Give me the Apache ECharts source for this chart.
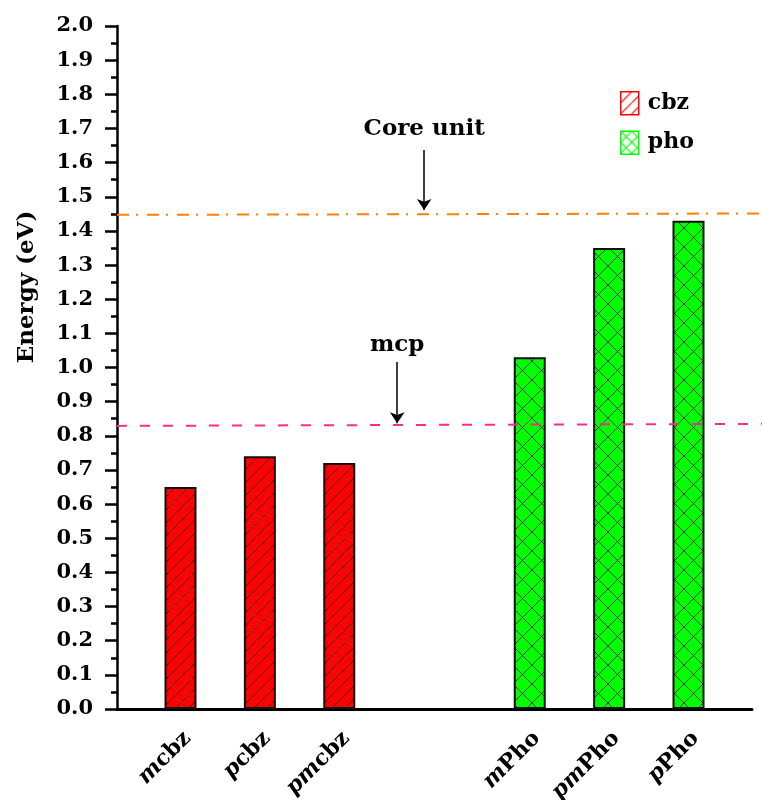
<!DOCTYPE html>
<html>
<head>
<meta charset="utf-8">
<script src="https://cdn.jsdelivr.net/npm/echarts@6/dist/echarts.min.js"></script>
<style>html,body{margin:0;padding:0;background:#fff;}#c{width:762px;height:800px;}</style>
</head>
<body>
<div id="c"></div>
<script>
// ---- data ----
const categories = ['mcbz', 'pcbz', 'pmcbz', 'mPho', 'pmPho', 'pPho'];
const labelItalic = ['m', 'p', 'pm', 'm', 'pm', 'p'];
const labelUpright = ['cbz', 'cbz', 'cbz', 'Pho', 'Pho', 'Pho'];
const groups = ['cbz', 'cbz', 'cbz', 'pho', 'pho', 'pho'];
const xPositions = [0.8, 1.8, 2.8, 5.2, 6.2, 7.2];
const energies = [0.65, 0.74, 0.72, 1.03, 1.35, 1.43];
const seriesNames = ['cbz', 'pho'];
const yMin = 0, yMax = 2.0, yStep = 0.1;
const coreUnitLevel = [1.447, 1.451];   // left end, right end
const mcpLevel = [0.829, 0.835];
const annotationTexts = ['Core unit', 'mcp'];
const annotationX = [3.87, 3.53];
const annotationFrom = [1.637, 1.016];
const annotationTo = [1.461, 0.837];

// ---- patterns ----
function hatch(size, bg, line, cross, lw) {
  const c = document.createElement('canvas');
  c.width = size; c.height = size;
  const g = c.getContext('2d');
  if (bg) { g.fillStyle = bg; g.fillRect(0, 0, size, size); }
  g.strokeStyle = line; g.lineWidth = lw;
  g.beginPath();
  g.moveTo(-1, size + 1); g.lineTo(size + 1, -1);
  if (cross) { g.moveTo(-1, -1); g.lineTo(size + 1, size + 1); }
  g.stroke();
  return { image: c, repeat: 'repeat' };
}
const redFill = hatch(13, '#ff0000', 'rgba(0,0,0,0.65)', false, 1);
const greenFill = hatch(19, '#00ff00', 'rgba(0,0,0,0.75)', true, 1);
const redLegend = hatch(11, '#ffffff', '#ff0000', false, 1.2);
const greenLegend = hatch(11, '#ffffff', '#00ff00', true, 1.2);
const fills = { cbz: redFill, pho: greenFill };

const FONT = 'DejaVu Serif';
const labelNudge = 0.09; // rotated labels sit slightly right of bar centres
const chart = echarts.init(document.getElementById('c'), null, { renderer: 'canvas' });

function labelFor(v) {
  let best = 0, d = 1e9;
  xPositions.forEach((p, i) => { const dd = Math.abs(p + labelNudge - v); if (dd < d) { d = dd; best = i; } });
  return '{i|' + labelItalic[best] + '}{u|' + labelUpright[best] + '}';
}

const barSeries = seriesNames.map(name => ({
  name: name,
  type: 'bar',
  stack: 'all',
  xAxisIndex: 0, yAxisIndex: 0,
  barWidth: 32,
  itemStyle: { color: fills[name], borderColor: '#111', borderWidth: 2 },
  data: xPositions.map((x, i) => groups[i] === name ? [x, energies[i]] : null).filter(d => d)
}));

const xMax2 = 8.126;
const option = {
  animation: false,
  backgroundColor: '#fff',
  grid: [
    { left: 117, top: 26, right: 10, bottom: 91, containLabel: false, outerBoundsMode: 'none' },
    { left: 117, top: 26, right: 0, bottom: 91, containLabel: false, outerBoundsMode: 'none' }
  ],
  xAxis: [
    {
      type: 'value', gridIndex: 0, min: 0, max: 8,
      splitLine: { show: false },
      axisLine: { show: true, onZero: false, lineStyle: { color: '#000', width: 3 } },
      axisTick: { show: false },
      axisLabel: {
        customValues: xPositions.map(p => p + labelNudge),
        rotate: 45, margin: 26,
        formatter: v => labelFor(v),
        rich: {
          i: { fontFamily: FONT, fontStyle: 'italic', fontWeight: 'bold', fontSize: 22, color: '#000' },
          u: { fontFamily: FONT, fontWeight: 'bold', fontSize: 22, color: '#000' }
        }
      }
    },
    {
      type: 'value', gridIndex: 1, min: 0, max: xMax2, show: false
    }
  ],
  yAxis: [
    {
      type: 'value', gridIndex: 0, min: yMin, max: yMax, interval: yStep,
      splitLine: { show: false },
      axisLine: { show: true, onZero: false, lineStyle: { color: '#000', width: 2.5 } },
      axisTick: { show: true, inside: false, length: 12, lineStyle: { width: 2.5, color: '#000' } },
      minorTick: { show: true, splitNumber: 2, length: 6, lineStyle: { width: 2.5, color: '#000' } },
      axisLabel: {
        margin: 24, color: '#000', fontFamily: FONT, fontWeight: 'bold', fontSize: 21,
        formatter: v => v.toFixed(1)
      }
    },
    {
      type: 'value', gridIndex: 1, min: yMin, max: yMax, show: false
    }
  ],
  legend: {
    orient: 'vertical', left: 620, top: 91,
    itemWidth: 18, itemHeight: 23, itemGap: 15, padding: 0,
    icon: 'rect',
    textStyle: { fontFamily: FONT, fontWeight: 'bold', fontSize: 22, color: '#000', padding: [0, 0, 0, 4] },
    data: [
      { name: 'cbz', itemStyle: { color: redLegend, borderColor: '#ff0000', borderWidth: 1.5 } },
      { name: 'pho', itemStyle: { color: greenLegend, borderColor: '#00ff00', borderWidth: 1.5 } }
    ]
  },
  graphic: [
    {
      type: 'text', x: 27, y: 287, rotation: Math.PI / 2,
      style: { text: 'Energy (eV)', fill: '#000', font: 'bold 23px "DejaVu Serif"', align: 'center', verticalAlign: 'middle' }
    }
  ],
  series: barSeries.concat([
    {
      name: 'coreLine', type: 'line', xAxisIndex: 1, yAxisIndex: 1,
      symbol: 'none', silent: true,
      lineStyle: { color: '#ff8000', width: 2, type: [12, 7, 2, 9] },
      data: [[0, coreUnitLevel[0]], [xMax2, coreUnitLevel[1]]],
      markLine: {
        silent: true, symbol: ['none', 'arrow'], symbolSize: 11,
        lineStyle: { color: '#000', width: 1.5, type: 'solid' },
        label: { show: true, position: 'start', distance: 9, color: '#000', fontFamily: FONT, fontWeight: 'bold', fontSize: 23, formatter: annotationTexts[0] },
        data: [[{ coord: [annotationX[0], annotationFrom[0]] }, { coord: [annotationX[0], annotationTo[0]] }]]
      }
    },
    {
      name: 'mcpLine', type: 'line', xAxisIndex: 1, yAxisIndex: 1,
      symbol: 'none', silent: true,
      lineStyle: { color: '#ff2a8c', width: 2, type: [10, 13] },
      data: [[0, mcpLevel[0]], [xMax2, mcpLevel[1]]],
      markLine: {
        silent: true, symbol: ['none', 'arrow'], symbolSize: 11,
        lineStyle: { color: '#000', width: 1.5, type: 'solid' },
        label: { show: true, position: 'start', distance: 6, color: '#000', fontFamily: FONT, fontWeight: 'bold', fontSize: 23, formatter: annotationTexts[1] },
        data: [[{ coord: [annotationX[1], annotationFrom[1]] }, { coord: [annotationX[1], annotationTo[1]] }]]
      }
    }
  ])
};
chart.setOption(option);
</script>
</body>
</html>
